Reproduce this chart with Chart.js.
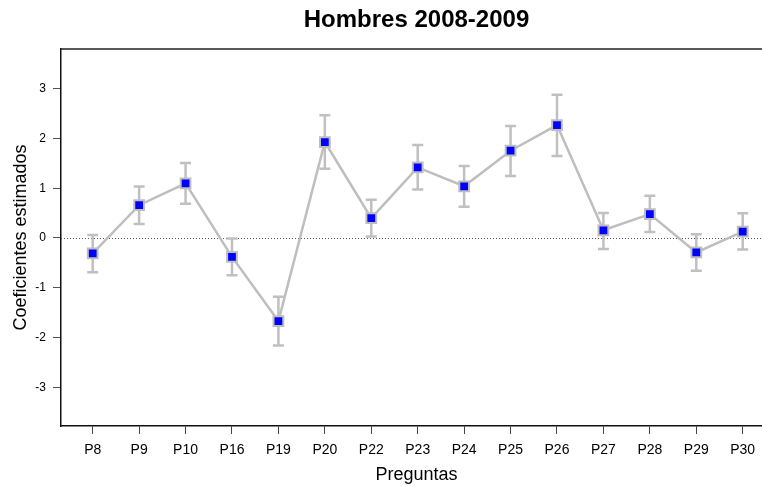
<!DOCTYPE html>
<html>
<head>
<meta charset="utf-8">
<script src="https://cdn.jsdelivr.net/npm/chart.js@4/dist/chart.umd.min.js"></script>
<style>
  html, body { margin: 0; padding: 0; background: #fff; }
  #wrap { width: 762px; height: 486px; overflow: hidden; position: relative; }
</style>
</head>
<body>
<div id="wrap">
  <canvas id="coefChart" width="790" height="486"></canvas>
</div>
<script>
const categories = ['P8', 'P9', 'P10', 'P16', 'P19', 'P20', 'P22', 'P23', 'P24', 'P25', 'P26', 'P27', 'P28', 'P29', 'P30'];
const coefficients = [-0.31, 0.66, 1.10, -0.38, -1.67, 1.93, 0.40, 1.42, 1.04, 1.755, 2.27, 0.155, 0.48, -0.29, 0.13];
const lowerBound = [-0.69, 0.28, 0.69, -0.75, -2.16, 1.39, 0.03, 0.975, 0.63, 1.245, 1.65, -0.22, 0.12, -0.66, -0.23];
const upperBound = [0.06, 1.035, 1.51, -0.01, -1.18, 2.47, 0.77, 1.87, 1.45, 2.25, 2.88, 0.505, 0.85, 0.075, 0.50];
const yTicks = [-3, -2, -1, 0, 1, 2, 3];

const FONT = "'Liberation Sans', Arial, Helvetica, sans-serif";

// error bars, zero line and top border
const extrasPlugin = {
    id: 'extras',
    beforeDatasetsDraw(chart) {
        const ctx = chart.ctx;
        const area = chart.chartArea;
        const x = chart.scales.x;
        const y = chart.scales.y;

        // dotted zero line
        ctx.save();
        ctx.strokeStyle = '#555';
        ctx.lineWidth = 1;
        ctx.setLineDash([1, 2]);
        ctx.beginPath();
        ctx.moveTo(area.left, Math.round(y.getPixelForValue(0)) + 0.5);
        ctx.lineTo(area.right, Math.round(y.getPixelForValue(0)) + 0.5);
        ctx.stroke();
        ctx.restore();

        // top border
        ctx.save();
        ctx.strokeStyle = '#222';
        ctx.lineWidth = 1.5;
        ctx.beginPath();
        ctx.moveTo(area.left, area.top);
        ctx.lineTo(area.right, area.top);
        ctx.stroke();
        ctx.restore();

        // error bars
        ctx.save();
        ctx.strokeStyle = '#c0c0c0';
        ctx.lineWidth = 2.5;
        for (let i = 0; i < categories.length; i++) {
            const px = x.getPixelForValue(i);
            const lo = y.getPixelForValue(lowerBound[i]);
            const hi = y.getPixelForValue(upperBound[i]);
            ctx.beginPath();
            ctx.moveTo(px, lo);
            ctx.lineTo(px, hi);
            ctx.moveTo(px - 5.5, lo);
            ctx.lineTo(px + 5.5, lo);
            ctx.moveTo(px - 5.5, hi);
            ctx.lineTo(px + 5.5, hi);
            ctx.stroke();
        }
        ctx.restore();
    }
};

const ctx = document.getElementById('coefChart').getContext('2d');
new Chart(ctx, {
    type: 'line',
    data: {
        datasets: [{
            data: coefficients.map((v, i) => ({ x: i, y: v })),
            borderColor: '#bebebe',
            borderWidth: 2.5,
            tension: 0,
            pointStyle: 'rect',
            pointRadius: 6.9,
            pointBackgroundColor: '#0000ff',
            pointBorderColor: '#bebebe',
            pointBorderWidth: 2,
            fill: false
        }]
    },
    options: {
        responsive: false,
        animation: false,
        events: [],
        layout: { padding: { top: 0, right: 18, bottom: 0, left: 0 } },
        plugins: {
            legend: { display: false },
            tooltip: { enabled: false },
            title: {
                display: true,
                text: 'Hombres 2008-2009',
                color: '#000',
                fullSize: false,
                font: { family: FONT, size: 24, weight: 'bold' },
                padding: { top: 6.2, bottom: 14 }
            }
        },
        scales: {
            x: {
                type: 'linear',
                min: -0.683,
                max: 14.631,
                afterFit(scale) { scale.height = 60; },
                afterBuildTicks(scale) {
                    scale.ticks = categories.map((c, i) => ({ value: i }));
                },
                ticks: {
                    autoSkip: false,
                    maxRotation: 0,
                    color: '#000',
                    padding: 8,
                    font: { family: FONT, size: 14 },
                    callback: (value) => categories[value]
                },
                grid: {
                    drawOnChartArea: false,
                    drawTicks: true,
                    tickLength: 8,
                    tickWidth: 1,
                    tickColor: '#444'
                },
                border: { display: true, color: '#111', width: 1.5 },
                title: {
                    display: true,
                    text: 'Preguntas',
                    color: '#000',
                    font: { family: FONT, size: 18 },
                    padding: { top: 0, bottom: 0 }
                }
            },
            y: {
                min: -3.78,
                max: 3.8,
                afterFit(scale) { scale.width = 61; },
                afterBuildTicks(scale) {
                    scale.ticks = yTicks.map(v => ({ value: v }));
                },
                ticks: {
                    color: '#000',
                    padding: 7,
                    font: { family: FONT, size: 12 }
                },
                grid: {
                    drawOnChartArea: false,
                    drawTicks: true,
                    tickLength: 8,
                    tickWidth: 1,
                    tickColor: '#555'
                },
                border: { display: true, color: '#111', width: 1.5 },
                title: {
                    display: true,
                    text: 'Coeficientes estimados',
                    color: '#000',
                    font: { family: FONT, size: 18 },
                    padding: { top: 10, bottom: 0 }
                }
            }
        }
    },
    plugins: [extrasPlugin]
});
</script>
</body>
</html>
